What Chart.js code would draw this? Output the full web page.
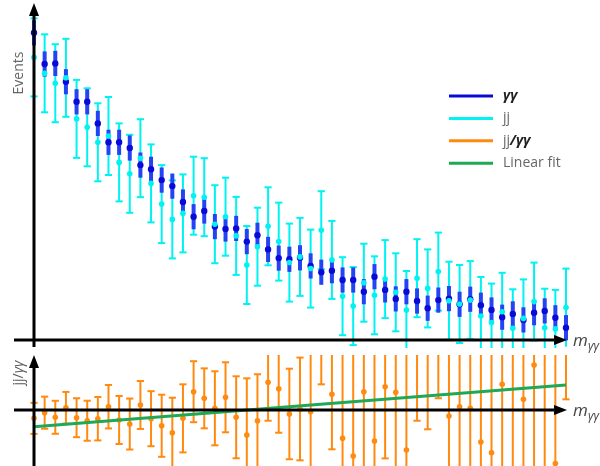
<!DOCTYPE html>
<html>
<head>
<meta charset="utf-8">
<script src="https://cdn.jsdelivr.net/npm/chart.js@4.4.1/dist/chart.umd.min.js"></script>
<style>
  html, body { margin: 0; padding: 0; background: #fff; }
  #wrap { position: relative; width: 600px; height: 466px; overflow: hidden; }
  #top { position: absolute; left: 0; top: 0; }
  #bottom { position: absolute; left: 0; top: 348px; }
</style>
</head>
<body>
<div id="wrap">
  <canvas id="top" width="600" height="360" style="width:600px;height:360px"></canvas>
  <canvas id="bottom" width="600" height="118" style="width:600px;height:118px"></canvas>
</div>
<script>
// bins of m_yy (index only, no tick labels in the picture)
const massBins = Array.from({ length: 51 }, (_, i) => i);

// events per bin (arbitrary units)
const ggEvents = [102.4, 92, 92.2, 86.1, 79.4, 79.4, 72.2, 65.9, 65.9, 64,
  58.3, 56.9, 53.3, 51.3, 46, 41.1, 43, 37.8, 37, 37.2,
  32.8, 34.9, 30.2, 27.3, 26.9, 27.4, 24.7, 22.6, 23.1, 20,
  20, 16.1, 21.1, 16.7, 13.7, 16.1, 13, 10.6, 13.3, 13.8,
  11.9, 13.6, 11.6, 10, 7.6, 8.7, 6.7, 9.1, 9.7, 7.4, 4.1];
const jjEvents = [94.2, 88.9, 85.6, 87.4, 73.7, 70.9, 65.9, 68, 59.2, 55.4,
  60.6, 52.2, 45.3, 40.2, 42.2, 48.1, 47.6, 38.6, 41.1, 34.7,
  25, 31.1, 37.9, 32.8, 25.8, 27.7, 23.8, 36.6, 26.7, 14.6,
  11.3, 19.1, 14.9, 20.3, 15.9, 10, 20.6, 17.2, 22.8, 13.1,
  12, 13.3, 8, 5.8, 9.4, 3.9, 7.2, 12.8, 4.1, 3.7, 10.8];
const ggErr = 4.2;
const jjErr = 13;

// ratio jj/yy and its errors
const ratio = [0.922, 0.975, 0.932, 1.021, 0.928, 0.9, 0.919, 1.031, 0.907, 0.869,
  1.047, 0.919, 0.853, 0.788, 0.922, 1.171, 1.109, 1.016, 1.119, 0.932,
  0.766, 0.9, 1.259, 1.199, 0.963, 1.01, 0.984, 1.62, 1.147, 0.736,
  0.57, 1.171, 0.71, 1.218, 1.165, 0.626, 1.58, 1.62, 1.71, 0.944,
  1.031, 1.016, 0.701, 0.601, 1.24, 0.45, 1.1, 1.42, 0.42, 0.5, 2.6];
const ratioErr = [0.145, 0.15, 0.154, 0.148, 0.182, 0.187, 0.203, 0.203, 0.224, 0.238,
  0.224, 0.257, 0.29, 0.327, 0.318, 0.285, 0.28, 0.346, 0.327, 0.383,
  0.53, 0.434, 0.359, 0.411, 0.423, 0.48, 0.58, 0.38, 0.514, 0.85,
  1.0, 0.75, 0.85, 0.67, 0.75, 0.95, 0.68, 0.8, 0.6, 0.7,
  0.7, 0.75, 0.9, 1.0, 0.85, 1.15, 0.8, 1.0, 1.2, 1.1, 1.5];

// linear fit end points (first and last bin)
const fitBins = [0, 50];
const fitValues = [0.844, 1.234];

const BLUE_DOT = "#0a0ad8";
const BLUE_BAR = "#2444f4";
const CYAN = "#00f2f2";
const ORANGE = "#ff8a10";
const GREEN = "#1fa855";
const FONT = "'Open Sans', 'Noto Sans', sans-serif";

const pts = (vals) => vals.map((v, i) => ({ x: massBins[i], y: v }));
const bars = (vals, err) =>
  vals.map((v, i) => {
    const e = Array.isArray(err) ? err[i] : err;
    return { x: massBins[i], y: [v - e, v + e] };
  });
const caps = (vals, err) =>
  vals.flatMap((v, i) => {
    const e = Array.isArray(err) ? err[i] : err;
    return [{ x: massBins[i], y: v - e }, { x: massBins[i], y: v + e }];
  });

function drawArrow(ctx, x1, y1, x2, y2) {
  const a = Math.atan2(y2 - y1, x2 - x1);
  const head = 13, half = 5;
  const bx = x2 - head * Math.cos(a), by = y2 - head * Math.sin(a);
  ctx.beginPath();
  ctx.moveTo(x1, y1);
  ctx.lineTo(bx, by);
  ctx.stroke();
  ctx.beginPath();
  ctx.moveTo(x2, y2);
  ctx.lineTo(bx - half * Math.sin(a), by + half * Math.cos(a));
  ctx.lineTo(bx + half * Math.sin(a), by - half * Math.cos(a));
  ctx.closePath();
  ctx.fill();
}

function drawPieces(ctx, pieces, x, y) {
  pieces.forEach((p) => {
    ctx.font = p.font;
    ctx.fillStyle = p.color;
    ctx.fillText(p.text, x, y + (p.dy || 0));
    x += ctx.measureText(p.text).width;
  });
}

function massLabel(ctx, x, y) {
  drawPieces(ctx, [
    { text: "m", font: `italic 17px ${FONT}`, color: "#444" },
    { text: "γγ", font: `italic 12px ${FONT}`, color: "#444", dy: 4 },
  ], x, y);
}

// axes with arrows, drawn over the data
const axesPlugin = (opts) => ({
  id: "axes",
  afterDatasetsDraw(chart) {
    const { ctx, chartArea, scales: { x, y } } = chart;
    const y0 = y.getPixelForValue(opts.base);
    const x0 = x.getPixelForValue(0);
    const xEnd = x.getPixelForValue(50.1);
    ctx.save();
    ctx.strokeStyle = "#000";
    ctx.fillStyle = "#000";
    ctx.lineWidth = 3;
    drawArrow(ctx, chartArea.left, y0, xEnd, y0);
    drawArrow(ctx, x0, opts.yFoot, x0, opts.yTip);
    ctx.textBaseline = "alphabetic";
    massLabel(ctx, xEnd + 6, y0 + 6);
    ctx.restore();
    opts.extra && opts.extra(ctx);
  },
});

const legendItems = [
  { color: BLUE_DOT, pieces: [{ text: "γγ", font: `italic bold 14px ${FONT}`, color: "#222" }] },
  { color: CYAN, pieces: [{ text: "jj", font: `14px ${FONT}`, color: "#666" }] },
  { color: ORANGE, pieces: [
    { text: "jj", font: `14px ${FONT}`, color: "#666" },
    { text: "/γγ", font: `italic bold 14px ${FONT}`, color: "#222" },
  ] },
  { color: GREEN, pieces: [{ text: "Linear fit", font: `14px ${FONT}`, color: "#666" }] },
];

function topExtras(ctx) {
  ctx.save();
  // y axis title
  ctx.translate(19, 73);
  ctx.rotate(-Math.PI / 2);
  ctx.font = `14px ${FONT}`;
  ctx.fillStyle = "#666";
  ctx.textAlign = "center";
  ctx.textBaseline = "middle";
  ctx.fillText("Events", 0, 0);
  ctx.restore();

  ctx.save();
  ctx.textBaseline = "middle";
  legendItems.forEach((item, k) => {
    const ly = 96 + k * 22.4;
    ctx.strokeStyle = item.color;
    ctx.lineWidth = 3;
    ctx.beginPath();
    ctx.moveTo(449, ly);
    ctx.lineTo(493, ly);
    ctx.stroke();
    drawPieces(ctx, item.pieces, 503, ly);
  });
  ctx.restore();
}

function bottomExtras(ctx) {
  ctx.save();
  ctx.translate(23, 25);
  ctx.rotate(-Math.PI / 2);
  ctx.textBaseline = "alphabetic";
  const pieces = [
    { text: "jj/", font: `14px ${FONT}`, color: "#555" },
    { text: "γγ", font: `italic 14px ${FONT}`, color: "#555" },
  ];
  let w = 0;
  pieces.forEach((p) => { ctx.font = p.font; w += ctx.measureText(p.text).width; });
  drawPieces(ctx, pieces, -w / 2, 0);
  ctx.restore();
}

const xScale = { type: "linear", display: false, offset: false, min: -1.88, max: 51.316 };
const barStyle = { grouped: false, borderWidth: 0, inflateAmount: 0 };

new Chart(document.getElementById("top"), {
  type: "scatter",
  data: {
    datasets: [
      { type: "scatter", data: pts(jjEvents), pointStyle: "circle", pointRadius: 2.8,
        backgroundColor: CYAN, borderWidth: 0, order: 1 },
      { type: "scatter", data: pts(ggEvents), pointStyle: "circle", pointRadius: 3.2,
        backgroundColor: BLUE_DOT, borderWidth: 0, order: 2 },
      { type: "bar", data: bars(ggEvents, ggErr), barThickness: 4, ...barStyle,
        backgroundColor: BLUE_BAR, order: 3 },
      { type: "scatter", data: caps(jjEvents, jjErr), pointStyle: "line", pointRadius: 3.6,
        borderColor: CYAN, borderWidth: 2, order: 4 },
      { type: "bar", data: bars(jjEvents, jjErr), barThickness: 2, ...barStyle,
        backgroundColor: CYAN, order: 5 },
    ].map((d) => ({ ...d, clip: { left: false, top: false, right: false, bottom: 8 } })),
  },
  options: {
    responsive: false,
    animation: false,
    events: [],
    layout: { autoPadding: false, padding: { left: 14, right: 20, top: 5, bottom: 20 } },
    scales: {
      x: xScale,
      y: { type: "linear", display: false, min: 0, max: 111.67 },
    },
    plugins: { legend: { display: false }, tooltip: { enabled: false } },
  },
  plugins: [axesPlugin({ base: 0, yFoot: 347, yTip: 3, extra: topExtras })],
});

new Chart(document.getElementById("bottom"), {
  type: "scatter",
  data: {
    datasets: [
      { type: "line", data: fitBins.map((b, i) => ({ x: b, y: fitValues[i] })),
        borderColor: GREEN, borderWidth: 3, pointRadius: 0, showLine: true, order: 0 },
      { type: "scatter", data: pts(ratio), pointStyle: "circle", pointRadius: 2.8,
        backgroundColor: ORANGE, borderWidth: 0, order: 1 },
      { type: "scatter", data: caps(ratio, ratioErr), pointStyle: "line", pointRadius: 3.6,
        borderColor: ORANGE, borderWidth: 2, order: 2 },
      { type: "bar", data: bars(ratio, ratioErr), barThickness: 2, ...barStyle,
        backgroundColor: ORANGE, order: 3 },
    ].map((d) => ({ ...d, clip: { left: false, top: 0, right: false, bottom: false } })),
  },
  options: {
    responsive: false,
    animation: false,
    events: [],
    layout: { autoPadding: false, padding: { left: 14, right: 20, top: 7, bottom: 0 } },
    scales: {
      x: xScale,
      y: { type: "linear", display: false, min: 0.477, max: 1.514 },
    },
    plugins: { legend: { display: false }, tooltip: { enabled: false } },
  },
  plugins: [axesPlugin({ base: 1, yFoot: 118, yTip: 7, extra: bottomExtras })],
});
</script>
</body>
</html>
